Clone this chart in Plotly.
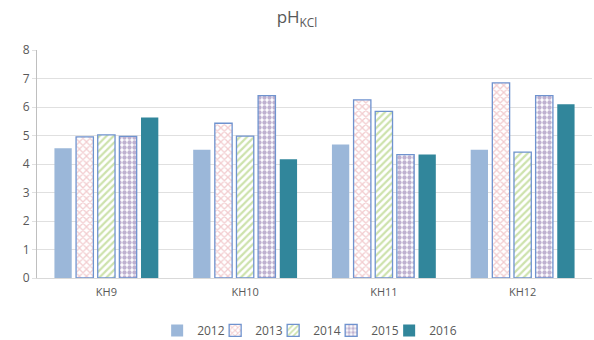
import plotly.graph_objects as go

categories = ["KH9", "KH10", "KH11", "KH12"]
years = ["2012", "2013", "2014", "2015", "2016"]
values = {
    "2012": [4.55, 4.50, 4.68, 4.50],
    "2013": [4.95, 5.43, 6.25, 6.85],
    "2014": [5.02, 4.98, 5.85, 4.42],
    "2015": [4.97, 6.40, 4.33, 6.40],
    "2016": [5.63, 4.17, 4.33, 6.10],
}

# fill style for each year: (fill colour, pattern shape, pattern colour, solidity)
styles = {
    "2012": ("#9bb7d9", "", None, 0),
    "2013": ("white", "x", "#e59aa0", 0.45),
    "2014": ("white", "/", "#9bc55a", 0.45),
    "2015": ("white", ".", "#8064a2", 0.6),
    "2016": ("#31869b", "", None, 0),
}

fig = go.Figure()
for y in years:
    fill, shape, fg, sol = styles[y]
    marker = dict(color=fill)
    if shape:
        marker["pattern"] = dict(shape=shape, fgcolor=fg, bgcolor="white",
                                 size=5, solidity=sol, fillmode="overlay")
        marker["line"] = dict(color="#6f93cf", width=1.3)
    else:
        marker["line"] = dict(width=0)
    fig.add_trace(go.Bar(name=y, x=categories, y=values[y], marker=marker))

# blank spacer entry so the last legend label is not clipped by the narrow entry width
fig.add_trace(go.Scatter(x=[None], y=[None], mode="markers", name=" ",
                         marker=dict(color="rgba(0,0,0,0)"), hoverinfo="skip"))

fig.update_layout(
    width=594, height=340,
    margin=dict(l=37, r=2, t=50, b=62, autoexpand=False),
    paper_bgcolor="white", plot_bgcolor="white",
    barmode="group", bargap=0.22, bargroupgap=0.2,
    font=dict(family="Open Sans, Liberation Sans, sans-serif", color="#595959", size=12),
    title=dict(text="pH<sub>KCl</sub>", x=0.5, xanchor="center", y=0.95, yanchor="middle",
               font=dict(size=17, color="#595959")),
    legend=dict(orientation="h", x=0.53, xanchor="center", y=-0.23, yanchor="middle",
                font=dict(size=12, color="#595959"), itemwidth=30, entrywidth=13,
                traceorder="normal"),
    showlegend=True,
)
fig.update_yaxes(range=[0, 8], dtick=1, showgrid=True, gridcolor="#e0e0e0", gridwidth=1,
                 showline=True, linecolor="#bfbfbf", linewidth=1, zeroline=False,
                 ticks="outside", ticklen=4, tickcolor="#e0e0e0",
                 tickfont=dict(size=12, color="#595959"))
fig.update_xaxes(showline=True, linecolor="#d9d9d9", ticks="outside", ticklen=4,
                 tickcolor="white", tickfont=dict(size=11, color="#595959"))

fig.write_html("out.html")
